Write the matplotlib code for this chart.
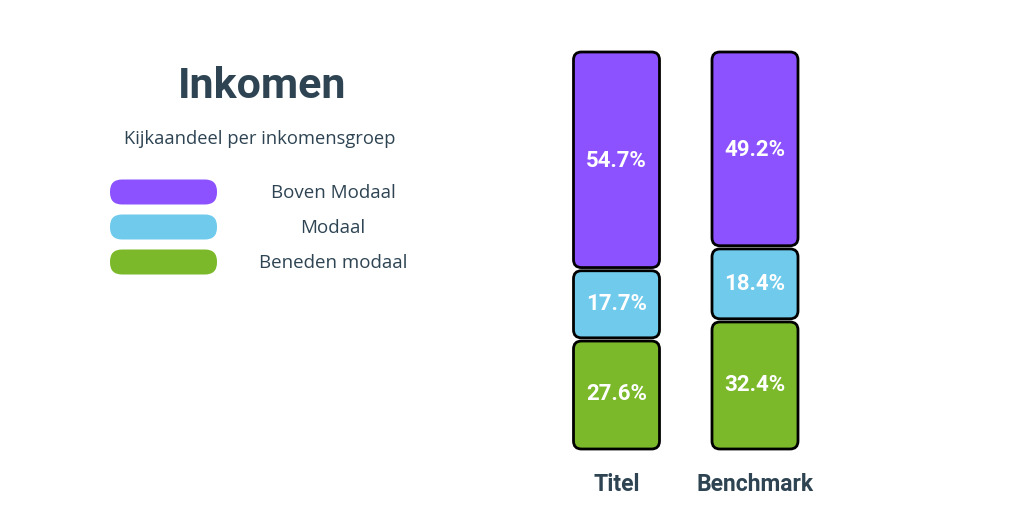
import matplotlib.pyplot as plt
from matplotlib.patches import FancyBboxPatch

categories = ["Titel", "Benchmark"]
groups = ["Beneden modaal", "Modaal", "Boven Modaal"]
values = {
    "Beneden modaal": [27.6, 32.4],
    "Modaal": [17.7, 18.4],
    "Boven Modaal": [54.7, 49.2],
}
colors = {
    "Beneden modaal": "#7BB92B",
    "Modaal": "#6FCAEC",
    "Boven Modaal": "#8C52FF",
}
title = "Inkomen"
subtitle = "Kijkaandeel per inkomensgroep"
legend_order = ["Boven Modaal", "Modaal", "Beneden modaal"]

TEXT = "#2E4453"
W, H = 1024, 512


def main():
    fig = plt.figure(figsize=(W / 100, H / 100), dpi=100)
    fig.set_facecolor("white")

    # overlay axes in pixel coordinates for the text block on the left
    over = fig.add_axes([0, 0, 1, 1])
    over.set_xlim(0, W)
    over.set_ylim(H, 0)
    over.axis("off")

    over.text(262, 87, title, ha="center", va="center", fontsize=31,
              fontweight="bold", color=TEXT, family="Roboto")
    over.text(260, 139, subtitle, ha="center", va="center", fontsize=13.2,
              color=TEXT, family="Open Sans")

    for i, name in enumerate(legend_order):
        yc = 192 + i * 35
        over.add_patch(FancyBboxPatch((110 + 12, yc - 0.5), 107 - 24, 1,
                                      boxstyle="round,pad=12",
                                      facecolor=colors[name], edgecolor="none"))
        over.text(333, yc + 1, name, ha="center", va="center", fontsize=13.5,
                  color=TEXT, family="Open Sans")

    # bar axes: x=0 at 616.5px, x=1 at 755px, y 0..100 from 449px to 52px
    px_per_x = 138.5
    left_px, right_px = 540, 840
    bottom_px, top_px = 449, 52
    ax = fig.add_axes([left_px / W, (H - bottom_px) / H,
                       (right_px - left_px) / W, (bottom_px - top_px) / H])
    ax.set_xlim(-(616.5 - left_px) / px_per_x, (right_px - 616.5) / px_per_x)
    ax.set_ylim(0, 100)
    ax.axis("off")

    px_per_y = (bottom_px - top_px) / 100
    aspect = px_per_x / px_per_y
    bar_w = 86 / px_per_x
    gap = 1.6 / px_per_y
    radius = 8 / px_per_x

    for j, cat in enumerate(categories):
        bottom = 0
        for k, name in enumerate(groups):
            v = values[name][j]
            y0 = bottom + (gap if k > 0 else 0)
            y1 = bottom + v - (gap if k < len(groups) - 1 else 0)
            patch = FancyBboxPatch((j - bar_w / 2, y0), bar_w, y1 - y0,
                                   boxstyle=f"round,pad=0,rounding_size={radius}",
                                   mutation_aspect=aspect,
                                   facecolor=colors[name], edgecolor="black",
                                   linewidth=2, clip_on=False)
            ax.add_patch(patch)
            ax.text(j, bottom + v / 2, f"{v}%", ha="center", va="center",
                    fontsize=16, fontweight="bold", color="white",
                    family="Roboto")
            bottom += v
        ax.text(j, -9, cat, ha="center", va="center", fontsize=16.5,
                fontweight="bold", color=TEXT, family="Roboto", clip_on=False)

    fig.savefig("out.png", dpi=100, facecolor="white")


if __name__ == "__main__":
    main()
